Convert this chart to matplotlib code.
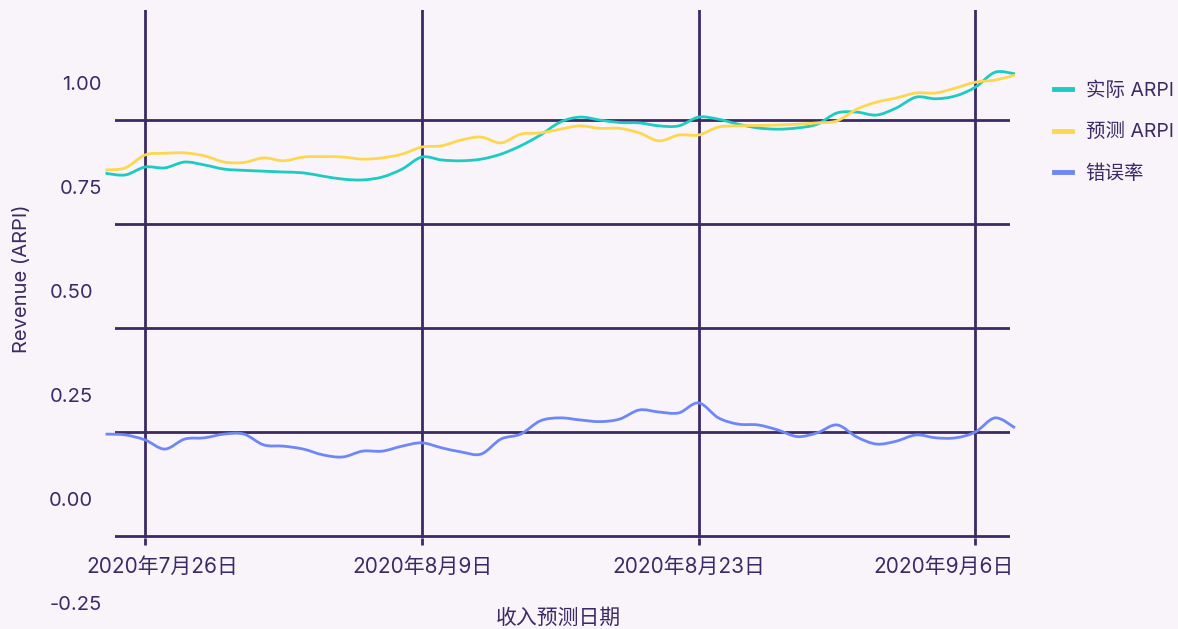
import numpy as np
import pandas as pd
import matplotlib
matplotlib.use('Agg')
import matplotlib.pyplot as plt
import matplotlib.transforms as mtransforms
from matplotlib.path import Path
from matplotlib.patches import PathPatch
from matplotlib.lines import Line2D

plt.rcParams['font.family'] = ['Inter', 'Noto Sans CJK SC', 'DejaVu Sans']

# data
dates = pd.date_range('2020-07-24', '2020-09-08', freq='D')
actual_arpi = [0.783, 0.779, 0.798, 0.796, 0.810, 0.803, 0.793, 0.790, 0.788, 0.786,
               0.784, 0.776, 0.769, 0.767, 0.774, 0.793, 0.822, 0.815, 0.813, 0.817,
               0.829, 0.849, 0.875, 0.906, 0.918, 0.911, 0.905, 0.904, 0.897, 0.897,
               0.918, 0.913, 0.901, 0.892, 0.889, 0.892, 0.901, 0.928, 0.930, 0.923,
               0.940, 0.966, 0.962, 0.969, 0.990, 1.026, 1.022]
predicted_arpi = [0.791, 0.796, 0.827, 0.831, 0.832, 0.825, 0.810, 0.809, 0.820, 0.813,
                  0.822, 0.823, 0.822, 0.817, 0.820, 0.829, 0.846, 0.849, 0.863, 0.870,
                  0.856, 0.877, 0.880, 0.889, 0.897, 0.891, 0.891, 0.880, 0.861, 0.875,
                  0.875, 0.894, 0.897, 0.898, 0.899, 0.901, 0.904, 0.909, 0.937, 0.954,
                  0.964, 0.976, 0.976, 0.988, 1.002, 1.007, 1.019]
error_rate = [0.156, 0.154, 0.142, 0.120, 0.144, 0.147, 0.156, 0.156, 0.130, 0.127,
              0.120, 0.106, 0.101, 0.115, 0.115, 0.127, 0.135, 0.123, 0.113, 0.108,
              0.144, 0.156, 0.188, 0.195, 0.190, 0.186, 0.192, 0.214, 0.209, 0.207,
              0.231, 0.195, 0.180, 0.178, 0.166, 0.150, 0.159, 0.178, 0.149, 0.132,
              0.139, 0.154, 0.147, 0.147, 0.161, 0.195, 0.171]

series_names = ['实际 ARPI', '预测 ARPI', '错误率']
series_colors = ['#1ccbc2', '#fdd84e', '#6f87f6']

y_ticks = [1.00, 0.75, 0.50, 0.25, 0.00, -0.25]
x_ticks = pd.to_datetime(['2020-07-26', '2020-08-09', '2020-08-23', '2020-09-06'])
x_tick_labels = ['2020年7月26日', '2020年8月9日', '2020年8月23日', '2020年9月6日']

# style
W, H = 1178, 629
bg = '#f8f4fa'
ink = '#3b2b64'
grid_shift = 0.09   # the horizontal grid sits a bit under the tick labels in the original


def spline_path(x, y):
    """smooth curve through the points (catmull-rom as cubic bezier)"""
    pts = np.column_stack([x, y])
    n = len(pts)
    verts = [pts[0]]
    codes = [Path.MOVETO]
    for i in range(n - 1):
        p0 = pts[max(i - 1, 0)]
        p1 = pts[i]
        p2 = pts[i + 1]
        p3 = pts[min(i + 2, n - 1)]
        verts += [p1 + (p2 - p0) / 6, p2 - (p3 - p1) / 6, p2]
        codes += [Path.CURVE4] * 3
    return Path(verts, codes)


fig = plt.figure(figsize=(W / 100, H / 100), dpi=100)
fig.patch.set_facecolor(bg)
ax = fig.add_axes([115 / W, 1 - 538 / H, 895 / W, 528 / H])
ax.set_facecolor(bg)
for s in ax.spines.values():
    s.set_visible(False)

xnum = matplotlib.dates.date2num(dates)
for vals, col in zip([actual_arpi, predicted_arpi, error_rate], series_colors):
    patch = PathPatch(spline_path(xnum, vals), fill=False, edgecolor=col,
                      lw=2.0, clip_on=False, zorder=3)
    ax.add_patch(patch)

# grid
ax.set_xticks(x_ticks)
ax.set_xticklabels([])
ax.set_yticks([t - grid_shift for t in y_ticks if t - grid_shift > -0.0938])
ax.set_yticklabels([])
ax.grid(True, color=ink, lw=2.0)
ax.set_axisbelow(True)
ax.tick_params(axis='x', length=5, width=2, color=ink, direction='out')
ax.tick_params(axis='y', length=0)

# limits after the ticks so nothing gets stretched
ax.set_xlim(pd.Timestamp('2020-07-24 11:30'), pd.Timestamp('2020-09-07 18:00'))
ax.set_ylim(-0.0938, 1.1755)

# tick labels (placed like the original)
ytrans = mtransforms.blended_transform_factory(fig.transFigure, ax.transData)
y_label_right = [102, 102, 93, 93, 93, 102]
for t, xr in zip(y_ticks, y_label_right):
    ax.text(xr / W, t - 0.004, f'{t:.2f}', transform=ytrans, ha='right', va='center',
            fontsize=14.5, color=ink, clip_on=False)

x_label_center = [162, 422, 689, 944]
for lab, xc in zip(x_tick_labels, x_label_center):
    fig.text(xc / W, 1 - 567 / H, lab, ha='center', va='center', fontsize=15, color=ink)

fig.text(22 / W, 1 - 279 / H, 'Revenue (ARPI)', rotation=90, ha='center', va='center',
         fontsize=14.5, color=ink)
fig.text(558 / W, 1 - 618 / H, '收入预测日期', ha='center', va='center',
         fontsize=15, color=ink)

handles = [Line2D([], [], color=c, lw=3.5) for c in series_colors]
leg = fig.legend(handles, series_names, loc='upper left', bbox_to_anchor=(1036 / W, 1 - 64 / H),
                 frameon=False, fontsize=14, handlelength=0.95, handletextpad=0.7,
                 labelspacing=1.2)
for txt in leg.get_texts():
    txt.set_color(ink)

fig.savefig('out.png', dpi=100, facecolor=bg)
